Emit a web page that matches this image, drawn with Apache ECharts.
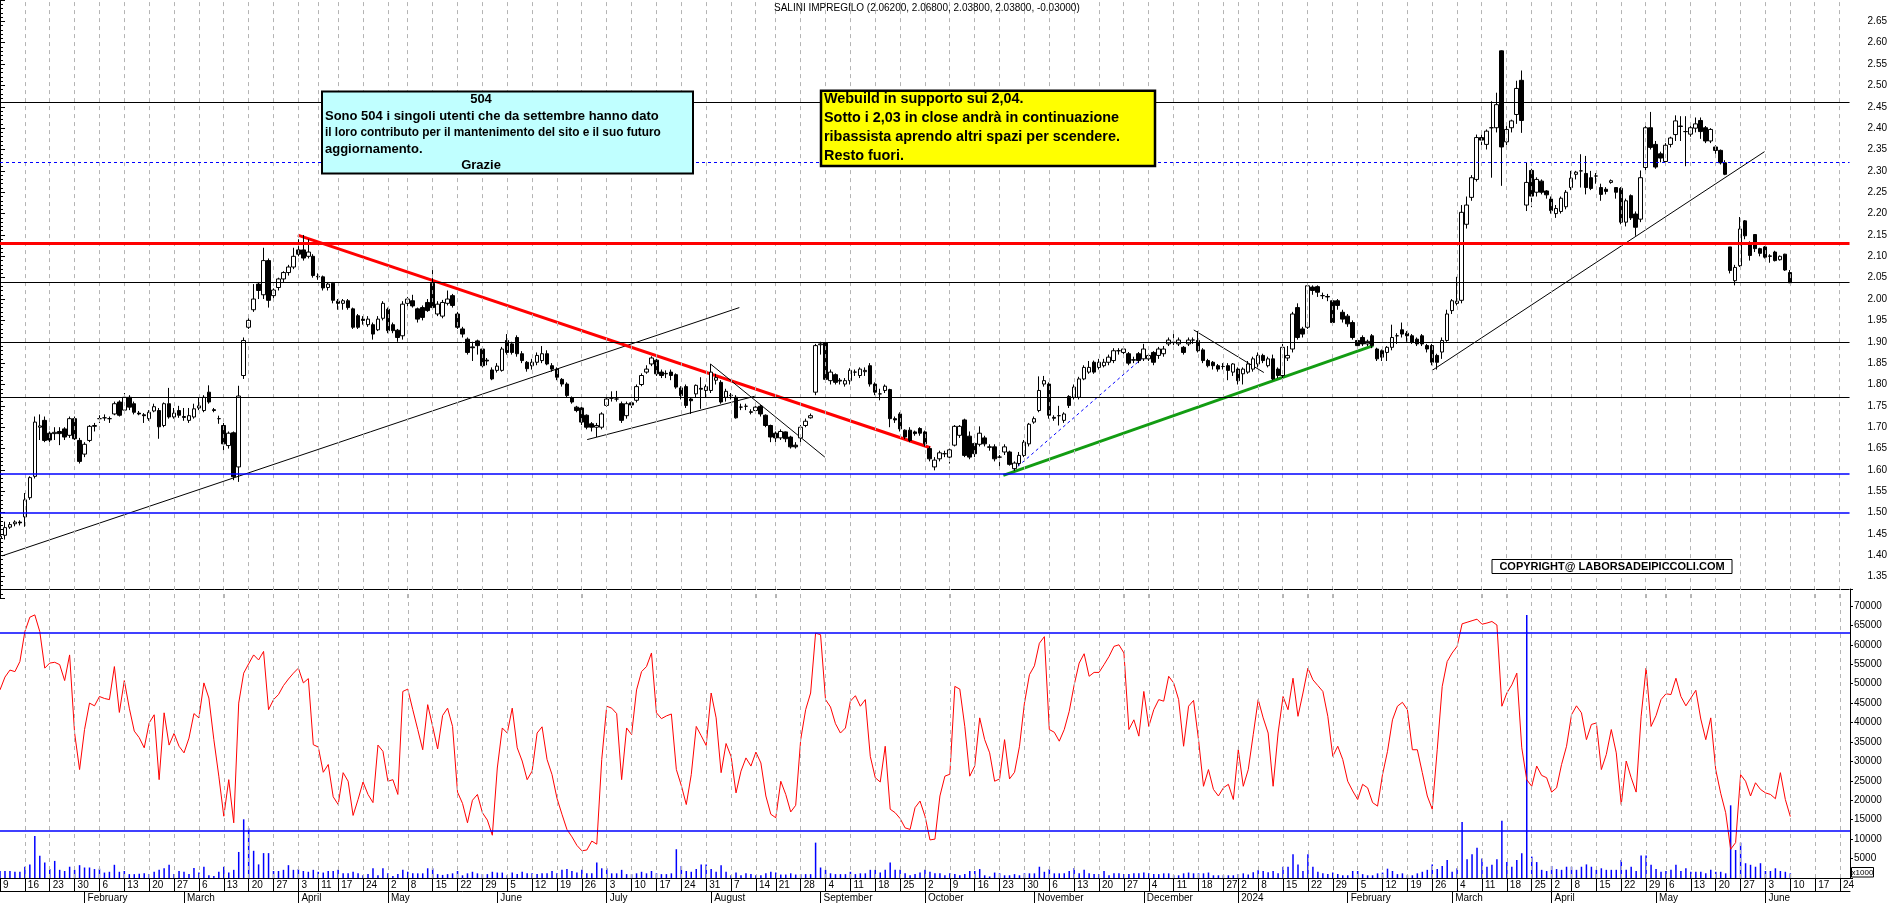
<!DOCTYPE html>
<html><head><meta charset="utf-8">
<script src="https://cdn.jsdelivr.net/npm/echarts@6/dist/echarts.min.js"></script>
<style>html,body{margin:0;padding:0;background:#fff;overflow:hidden}#c{width:1890px;height:903px}</style>
</head><body><div id="c"></div>
<script>
// ---------- calendar (trading days) ----------
const firstDay = '2023-01-09';
const lastAxisDay = '2024-06-26';
const holidays = ['2023-04-07','2023-04-10','2023-05-01','2023-08-15','2023-12-25','2023-12-26','2024-01-01','2024-03-29','2024-04-01','2024-05-01'];
const monthNames = ['January','February','March','April','May','June','July','August','September','October','November','December'];

// ---------- price data (daily OHLC, Jan 9 2023 .. Jun 10 2024) ----------
const opens = [
1.44,1.447,1.466,1.474,1.478,1.49,1.535,1.585,1.70,1.716,
1.686,1.685,1.69,1.696,1.681,1.72,1.669,1.637,1.669,1.702,
1.72,1.722,1.72,1.731,1.759,1.74,1.77,1.755,1.733,1.729,
1.72,1.738,1.739,1.704,1.755,1.724,1.739,1.725,1.716,1.724,
1.745,1.739,1.782,1.741,1.72,1.704,1.657,1.687,1.607,1.821,
1.934,1.975,2.035,2.01,2.09,2.008,2.027,2.047,2.062,2.075,
2.115,2.115,2.10,2.10,2.053,2.052,2.027,2.037,1.995,1.99,
1.996,1.977,1.961,1.953,1.94,1.94,1.928,1.955,1.976,1.94,
1.927,1.914,1.99,1.996,1.977,1.98,1.992,2.037,1.965,1.96,
1.99,2.008,1.965,1.93,1.906,1.888,1.902,1.883,1.857,1.834,
1.833,1.833,1.903,1.895,1.91,1.872,1.852,1.844,1.852,1.856,
1.872,1.844,1.836,1.812,1.801,1.769,1.747,1.745,1.728,1.708,
1.70,1.70,1.751,1.768,1.766,1.755,1.727,
1.757,1.763,1.80,1.829,1.848,1.857,1.829,1.826,1.829,1.823,
1.792,1.795,1.766,1.778,1.791,1.786,1.786,1.81,1.805,1.77,
1.775,1.770,1.747,1.749,1.736,1.739,1.749,1.728,1.704,1.686,
1.675,1.689,1.677,1.658,1.675,1.704,1.722,1.782,1.893,1.897,
1.809,1.823,1.81,1.801,1.809,1.829,1.821,1.83,1.844,1.801,
1.778,1.786,1.788,1.72,1.731,1.693,1.693,1.689,1.697,1.689,
1.65,1.607,1.626,1.638,1.63,1.658,1.681,1.717,1.679,1.662,
1.66,1.675,1.654,1.654,1.63,1.642,1.642,1.603,1.615,1.634,
1.661,1.712,1.739,1.801,1.801,1.723,1.727,1.716,1.772,1.77,
1.77,1.813,1.829,1.852,1.84,1.844,1.852,1.856,1.879,1.875,
1.872,1.858,1.872,1.860,1.860,1.875,1.868,1.872,1.895,1.898,
1.895,1.887,1.895,1.904,1.903,1.881,1.856,1.852,1.844,1.842,
1.844,1.829,1.836,1.825,1.829,1.836,1.848,
1.868,1.844,1.86,1.836,1.821,1.862,1.883,1.98,1.93,1.934,
2.028,2.029,2.008,2.006,1.996,1.996,1.969,1.96,1.945,1.903,
1.91,1.895,1.914,1.883,1.879,1.875,1.887,1.914,1.928,1.92,
1.914,1.906,1.914,1.891,1.891,1.868,1.876,1.903,1.973,1.99,
1.997,2.175,2.238,2.28,2.378,2.362,2.401,2.401,2.581,2.368,
2.401,2.432,2.512,2.22,2.301,2.25,2.276,2.253,2.234,2.2,
2.205,2.216,2.261,2.292,2.3,2.294,2.284,2.288,2.261,2.257,
2.273,2.261,2.259,2.18,2.242,2.199,2.187,2.308,2.401,2.362,
2.34,2.322,2.362,2.385,2.405,2.392,2.386,2.40,2.418,2.401,
2.37,2.356,2.348,2.319,2.122,2.043,2.078,2.183,2.13,2.151,
2.118,2.122,2.101,2.11,2.092,2.105,2.062];
const highs = [
1.45,1.479,1.478,1.482,1.482,1.546,1.585,1.725,1.73,1.725,
1.69,1.70,1.70,1.70,1.725,1.725,1.675,1.665,1.705,1.71,
1.728,1.73,1.725,1.76,1.763,1.78,1.775,1.76,1.738,1.733,
1.74,1.755,1.745,1.758,1.792,1.745,1.75,1.745,1.745,1.755,
1.77,1.775,1.798,1.745,1.727,1.71,1.69,1.69,1.797,1.91,
1.955,2.035,2.04,2.12,2.095,2.025,2.05,2.065,2.08,2.12,
2.14,2.15,2.14,2.105,2.06,2.055,2.04,2.04,2.0,2.0,
2.0,1.98,1.965,1.96,1.96,1.945,1.96,1.995,1.98,1.945,
1.93,1.995,2.005,2.01,1.98,1.985,2.0,2.075,1.995,1.998,
2.02,2.012,1.97,1.935,1.91,1.90,1.905,1.89,1.862,1.84,
1.85,1.888,1.918,1.90,1.915,1.878,1.855,1.86,1.875,1.89,
1.88,1.85,1.84,1.815,1.805,1.772,1.75,1.748,1.73,1.712,
1.71,1.735,1.77,1.784,1.785,1.76,1.76,
1.76,1.80,1.826,1.845,1.866,1.86,1.835,1.833,1.835,1.826,
1.796,1.80,1.77,1.80,1.817,1.80,1.848,1.825,1.81,1.79,
1.78,1.775,1.755,1.755,1.742,1.75,1.752,1.73,1.706,1.69,
1.695,1.69,1.68,1.665,1.705,1.72,1.732,1.895,1.90,1.90,
1.835,1.826,1.815,1.815,1.838,1.835,1.84,1.84,1.85,1.805,
1.79,1.80,1.79,1.725,1.735,1.695,1.70,1.692,1.70,1.692,
1.655,1.63,1.645,1.645,1.65,1.705,1.705,1.72,1.69,1.665,
1.702,1.68,1.66,1.66,1.635,1.66,1.645,1.62,1.642,1.67,
1.71,1.725,1.819,1.82,1.805,1.728,1.75,1.735,1.775,1.80,
1.818,1.845,1.855,1.856,1.86,1.86,1.87,1.885,1.885,1.89,
1.876,1.865,1.876,1.895,1.872,1.878,1.888,1.89,1.91,1.92,
1.91,1.89,1.91,1.91,1.925,1.885,1.86,1.855,1.848,1.85,
1.85,1.85,1.84,1.84,1.855,1.865,1.875,
1.872,1.865,1.87,1.84,1.895,1.89,1.97,1.99,1.935,2.035,
2.032,2.032,2.015,2.012,2.0,2.0,1.975,1.965,1.95,1.905,
1.915,1.905,1.918,1.886,1.882,1.89,1.94,1.92,1.945,1.925,
1.918,1.91,1.918,1.895,1.895,1.872,1.91,1.975,2.0,2.052,
2.22,2.24,2.29,2.385,2.385,2.397,2.463,2.483,2.582,2.405,
2.42,2.511,2.535,2.319,2.305,2.285,2.28,2.255,2.24,2.22,
2.24,2.255,2.30,2.30,2.339,2.335,2.30,2.295,2.27,2.262,
2.28,2.262,2.262,2.235,2.245,2.205,2.301,2.405,2.438,2.37,
2.345,2.365,2.38,2.43,2.428,2.428,2.41,2.425,2.425,2.405,
2.40,2.36,2.35,2.325,2.122,2.08,2.192,2.185,2.135,2.152,
2.12,2.124,2.105,2.113,2.102,2.106,2.068];
const lows = [
1.43,1.437,1.462,1.468,1.470,1.467,1.53,1.58,1.67,1.665,
1.665,1.67,1.658,1.67,1.675,1.67,1.615,1.63,1.665,1.69,
1.71,1.715,1.71,1.728,1.725,1.735,1.74,1.73,1.728,1.71,
1.715,1.735,1.673,1.70,1.72,1.72,1.722,1.715,1.71,1.72,
1.74,1.735,1.755,1.735,1.708,1.645,1.65,1.576,1.572,1.813,
1.93,1.97,2.0,2.0,1.98,1.995,2.02,2.04,2.055,2.07,
2.10,2.09,2.095,2.05,2.045,2.02,2.02,1.99,1.975,1.975,
1.975,1.93,1.93,1.94,1.935,1.905,1.925,1.95,1.92,1.92,
1.90,1.905,1.98,1.98,1.945,1.95,1.97,1.975,1.96,1.955,
1.985,1.98,1.93,1.91,1.87,1.855,1.87,1.84,1.845,1.81,
1.828,1.83,1.87,1.87,1.865,1.85,1.83,1.835,1.845,1.85,
1.845,1.83,1.81,1.795,1.77,1.755,1.735,1.705,1.695,1.69,
1.677,1.695,1.748,1.76,1.76,1.71,1.72,
1.745,1.758,1.796,1.825,1.843,1.82,1.815,1.815,1.81,1.79,
1.765,1.745,1.731,1.77,1.743,1.77,1.78,1.80,1.755,1.76,
1.765,1.72,1.74,1.74,1.73,1.735,1.725,1.70,1.665,1.665,
1.67,1.665,1.65,1.65,1.665,1.70,1.72,1.775,1.87,1.805,
1.80,1.80,1.80,1.795,1.80,1.82,1.815,1.82,1.795,1.775,
1.763,1.78,1.70,1.71,1.69,1.672,1.665,1.68,1.68,1.655,
1.62,1.599,1.62,1.63,1.615,1.655,1.675,1.63,1.625,1.63,
1.655,1.655,1.645,1.62,1.607,1.635,1.61,1.598,1.61,1.63,
1.655,1.708,1.735,1.795,1.72,1.715,1.704,1.71,1.745,1.765,
1.765,1.81,1.825,1.825,1.835,1.84,1.845,1.85,1.87,1.87,
1.845,1.85,1.85,1.855,1.855,1.845,1.86,1.865,1.89,1.892,
1.89,1.87,1.89,1.895,1.875,1.85,1.84,1.835,1.83,1.835,
1.81,1.82,1.80,1.80,1.825,1.83,1.84,
1.85,1.84,1.81,1.815,1.815,1.855,1.875,1.905,1.91,1.93,
2.01,2.005,2.0,1.995,1.94,1.975,1.945,1.935,1.905,1.885,
1.89,1.89,1.885,1.855,1.855,1.855,1.88,1.895,1.91,1.90,
1.895,1.89,1.89,1.875,1.845,1.835,1.86,1.90,1.965,1.985,
1.99,2.165,2.23,2.275,2.36,2.35,2.284,2.39,2.265,2.36,
2.39,2.41,2.389,2.206,2.215,2.24,2.245,2.235,2.2,2.19,
2.2,2.21,2.255,2.28,2.261,2.245,2.255,2.27,2.23,2.245,
2.27,2.235,2.175,2.17,2.185,2.148,2.18,2.295,2.35,2.305,
2.32,2.315,2.355,2.37,2.37,2.311,2.38,2.39,2.375,2.365,
2.365,2.34,2.315,2.29,2.06,2.032,2.075,2.14,2.09,2.11,
2.1,2.095,2.085,2.088,2.09,2.066,2.038];
const closes = [
1.445,1.465,1.472,1.478,1.476,1.53,1.582,1.712,1.703,1.669,
1.67,1.688,1.685,1.677,1.72,1.673,1.62,1.66,1.702,1.704,
1.72,1.722,1.72,1.755,1.728,1.77,1.747,1.735,1.731,1.727,
1.735,1.748,1.701,1.755,1.724,1.733,1.728,1.723,1.727,1.743,
1.75,1.77,1.759,1.739,1.72,1.661,1.686,1.584,1.773,1.903,
1.95,2.0,2.02,2.09,1.997,2.021,2.047,2.062,2.075,2.10,
2.105,2.096,2.11,2.055,2.052,2.026,2.035,1.997,1.99,1.996,
1.98,1.934,1.934,1.95,1.953,1.918,1.953,1.99,1.926,1.926,
1.91,1.988,2.0,1.984,1.953,1.957,1.973,1.98,1.988,1.992,
2.0,1.985,1.934,1.918,1.875,1.886,1.891,1.844,1.855,1.813,
1.843,1.883,1.875,1.875,1.872,1.856,1.837,1.852,1.868,1.872,
1.848,1.836,1.817,1.801,1.774,1.759,1.739,1.712,1.70,1.70,
1.704,1.731,1.766,1.768,1.766,1.716,1.755,
1.752,1.795,1.821,1.836,1.862,1.825,1.821,1.825,1.821,1.794,
1.774,1.751,1.762,1.798,1.789,1.795,1.829,1.816,1.759,1.784,
1.774,1.722,1.747,1.749,1.735,1.747,1.731,1.704,1.677,1.675,
1.690,1.673,1.654,1.654,1.70,1.714,1.727,1.891,1.895,1.812,
1.829,1.805,1.808,1.809,1.833,1.829,1.836,1.833,1.801,1.782,
1.778,1.796,1.72,1.717,1.696,1.677,1.669,1.685,1.686,1.661,
1.626,1.623,1.64,1.638,1.647,1.702,1.702,1.634,1.63,1.638,
1.686,1.661,1.653,1.626,1.63,1.654,1.613,1.616,1.634,1.665,
1.707,1.72,1.786,1.809,1.728,1.721,1.727,1.731,1.751,1.794,
1.813,1.84,1.84,1.829,1.852,1.852,1.864,1.879,1.879,1.883,
1.85,1.857,1.856,1.883,1.868,1.852,1.883,1.883,1.904,1.899,
1.904,1.875,1.904,1.904,1.879,1.856,1.844,1.844,1.836,1.842,
1.833,1.848,1.809,1.836,1.848,1.86,1.868,
1.856,1.86,1.813,1.821,1.887,1.868,1.965,1.91,1.918,2.031,
2.02,2.016,2.008,2.005,1.945,1.985,1.953,1.942,1.91,1.891,
1.895,1.901,1.891,1.86,1.864,1.887,1.91,1.914,1.918,1.914,
1.899,1.895,1.895,1.883,1.852,1.852,1.903,1.965,1.996,1.995,
2.203,2.22,2.284,2.378,2.372,2.393,2.401,2.455,2.356,2.397,
2.417,2.493,2.418,2.273,2.241,2.28,2.25,2.244,2.207,2.212,
2.236,2.25,2.283,2.297,2.3,2.261,2.259,2.288,2.245,2.252,
2.277,2.25,2.18,2.23,2.19,2.168,2.284,2.401,2.355,2.309,
2.33,2.36,2.377,2.417,2.404,2.392,2.401,2.41,2.392,2.37,
2.397,2.348,2.319,2.292,2.067,2.074,2.164,2.148,2.102,2.118,
2.107,2.098,2.1,2.09,2.1,2.068,2.038];

// ---------- lower panel: red oscillator and volume (x1000) ----------
const oscillator = [
48400,51700,53500,53100,55700,63400,67100,67700,63400,54000,
55300,55500,54900,50800,57400,37300,27900,38200,45000,44300,
46700,46200,45900,54400,42600,50800,43700,37800,36100,33500,
39900,42000,25300,42500,34200,37200,33900,32200,36000,42300,
41200,50200,46300,35600,26200,15900,25300,14200,45000,52700,
55100,57400,56100,58300,43300,45900,47200,49500,51200,52700,
54000,50200,51300,34300,33700,27200,29200,20900,18900,27100,
24900,16100,20200,24700,21500,19400,34200,32600,24900,25300,
21500,48000,48600,43300,38200,33000,44600,39000,33200,41800,
43700,39000,22100,19200,14200,20000,21500,16800,14900,11000,
28300,38600,37300,43700,33500,30100,25300,27500,37300,38900,
30500,26600,20500,16400,12500,10600,8400,7000,7200,9500,
8700,30500,44200,43700,42300,25300,38600,
36900,48400,53100,54400,57900,42500,41000,41700,42200,27900,
23800,18900,26600,39000,36600,34100,47600,41200,27100,34600,
31300,21900,27500,30900,28800,32400,29600,21100,16400,15500,
24900,21500,17000,18700,35600,43300,47600,63000,62600,45900,
44000,39700,37300,38600,45500,46900,44200,45900,31300,25800,
24700,33900,17700,16800,15300,12900,12500,18100,19800,15900,
9800,10000,21100,26200,26700,49300,48600,39000,26200,28800,
41200,35600,32200,24900,25500,35600,25500,27200,33900,45000,
52300,54600,60400,62100,38200,37500,35200,38200,42900,49700,
55300,57700,51900,52900,52900,54900,57000,59600,60000,57900,
38200,40700,36500,48000,39000,43300,45900,45500,51900,50200,
45900,33900,44200,45700,35600,23600,27900,22800,21100,23200,
24100,20200,33000,23600,27900,36900,45900,
41200,37300,23600,37300,46700,43300,51400,41600,47600,54000,
51000,49500,48000,41600,31300,33900,30500,24900,22400,20200,
24100,23200,19400,18500,26600,32600,40700,44200,45200,43300,
33000,33000,27100,21100,17700,33000,49300,55700,57900,59600,
65400,65800,66200,66600,65300,65600,66000,65100,44200,47600,
49700,52700,33500,25300,23600,28800,26400,25800,22100,23200,
29200,33900,42000,44300,42500,35600,39500,39900,27900,31800,
38200,32200,18900,30100,25800,22100,41600,54000,39000,41800,
45900,47400,47200,51400,46700,44300,46300,48300,40900,35600,
41200,27900,21800,16800,7400,9100,26600,24900,21100,24500,
22800,21900,21500,20400,27100,20200,15800];
const volumes = [
1800,1800,1800,1600,1600,2900,3500,10800,5700,4000,
2300,4400,2100,1800,2900,2100,3300,2700,2700,2300,
2400,1400,1600,3400,1600,1800,1000,1000,1100,1200,
1000,1600,2100,2500,3400,1000,1800,1600,1000,2600,
1400,2900,700,500,1600,2900,1400,2100,6700,15100,
12800,7000,3500,6400,6400,1800,1800,2100,3300,2100,
2300,1800,1600,2100,1600,1400,1800,1800,2100,1200,
1200,1600,1200,700,1000,2500,700,2500,1200,500,
1000,2100,1600,1200,1200,1200,2500,2500,1000,800,
1000,1200,1800,700,1200,1600,1200,1000,1000,1600,
1400,1400,700,1400,1000,1600,1200,1200,1000,1200,
1200,1800,1200,2100,2300,1800,1400,2100,1200,1200,
4000,2500,2500,1200,1200,2100,1000,
1000,1200,1600,1200,1800,1200,1000,1000,1200,7400,
3100,1800,1600,2300,3500,3500,2300,1600,3300,1600,
700,1400,700,1200,1000,700,700,1200,1600,1400,
900,900,1200,900,1000,1000,1000,9100,2700,2100,
1200,1000,1000,1000,1600,1000,1200,1200,2100,2100,
1400,2100,4000,2100,2100,1200,700,1000,1400,2100,
1600,1200,1200,700,1200,1000,700,1000,1800,1800,
2300,700,400,1400,1200,700,700,1000,700,1200,
1200,1200,2900,1600,2300,1200,1200,1200,1800,2600,
1200,2100,1200,1000,1000,1800,700,1200,1200,1000,
1000,1200,1200,1400,1200,1000,1000,1200,1200,700,
700,1200,1400,1200,1200,1200,1400,700,700,700,
700,700,1000,1200,900,1500,2000,
1800,1500,1800,1200,2900,2900,6100,3500,1800,6100,
2900,1600,1200,1000,1400,1000,700,700,1800,1800,
1000,700,700,1200,1400,2400,1800,1000,1200,700,
700,1200,1600,2100,3500,2300,3100,4600,1600,2500,
14400,4800,6100,7800,5000,2900,3400,4800,14700,4100,
2900,4600,6400,67700,5500,4100,2100,1800,3100,2300,
2100,2900,2900,2100,2900,3500,2900,2100,2500,2100,
2100,2100,4600,2100,2900,1800,5800,5800,3400,2300,
1600,1800,2100,3400,1800,2500,1600,1600,1600,1200,
2100,1600,1600,1200,18700,7200,9100,3800,3400,2900,
3800,1800,1800,2500,1800,1600,1200];

// ---------- horizontal levels and drawn trend lines (data coordinates: [day index, price]) ----------
const priceLevels = [2.4625, 2.320, 2.1276, 2.043, 1.902, 1.7726, 1.5928, 1.504, 1.3212];
const oscLevels = [63000, 12250];
const trendUpLong = [[0.4, 1.3987], [148.7, 1.980]];
const trendRedDown = [[59.9, 2.1496], [187.1, 1.652]];
const channelLow = [[118.1, 1.671], [151.8, 1.7725]];
const julyDown = [[142.9, 1.848], [165.9, 1.630]];
const blueDashUp = [[203.8, 1.599], [230.0, 1.864]];
const greenUp = [[201.8, 1.5874], [276.2, 1.891]];
const decDown = [[240.1, 1.9277], [254.2, 1.828]];
const springUp = [[288.0, 1.8326], [354.9, 2.345]];

// ---------- texts ----------
const titleText = 'SALINI IMPREGILO (2.06200, 2.06800, 2.03800, 2.03800, -0.03000)';
const cyanLines = ['Sono 504 i singoli utenti che da settembre hanno dato', 'il loro contributo per il mantenimento del sito e il suo futuro', 'aggiornamento.'];
const yellowLines = ['Webuild in supporto sui 2,04.', 'Sotto i 2,03 in close andrà in continuazione', 'ribassista aprendo altri spazi per scendere.', 'Resto fuori.'];

// ---------- build categories ----------
const dates = [];
(function () {
  const d = new Date(firstDay + 'T00:00:00Z');
  const end = new Date(lastAxisDay + 'T00:00:00Z').getTime();
  while (d.getTime() <= end) {
    const dow = d.getUTCDay();
    const s = d.toISOString().slice(0, 10);
    if (dow !== 0 && dow !== 6 && holidays.indexOf(s) < 0) dates.push(s);
    d.setUTCDate(d.getUTCDate() + 1);
  }
})();
function mondayKey(s) {
  const d = new Date(s + 'T00:00:00Z');
  const dow = (d.getUTCDay() + 6) % 7;
  d.setUTCDate(d.getUTCDate() - dow);
  return d.toISOString().slice(0, 10);
}
const weekStart = dates.map((s, i) => i === 0 || mondayKey(s) !== mondayKey(dates[i - 1]));
const monthStart = dates.map((s, i) => i > 0 && s.slice(5, 7) !== dates[i - 1].slice(5, 7));
const N = dates.length;

const ohlc = opens.map((o, i) => [o, closes[i], lows[i], highs[i]]);

const FONT = '"Liberation Sans", Arial, sans-serif';
const chart = echarts.init(document.getElementById('c'), null, { renderer: 'canvas' });

const levelStyles = [
  { color: '#000', width: 1, type: 'solid' },
  { color: '#0000ff', width: 1, type: [3, 3] },
  { color: '#ff0000', width: 3, type: 'solid' },
  { color: '#000', width: 1, type: 'solid' },
  { color: '#000', width: 1, type: 'solid' },
  { color: '#000', width: 1, type: 'solid' },
  { color: '#0000ff', width: 1.5, type: 'solid' },
  { color: '#0000ff', width: 1.5, type: 'solid' },
  { color: '#000', width: 1, type: 'solid' }
];

function seg(data, color, width, type) {
  return { type: 'line', xAxisIndex: 3, yAxisIndex: 0, data: data, symbol: 'none', silent: true,
    lineStyle: { color: color, width: width, type: type || 'solid' }, z: 3 };
}

const weekGridStyle = { color: '#b4b4b4', width: 1, type: [4, 4] };
const weekLines = dates.map((s, i) => (weekStart[i] && i > 0) ? { xAxis: s, lineStyle: weekGridStyle } : null).filter(Boolean);

const graphics = [
  { type: 'text', x: 774, y: 8.5, z: 100, style: { text: titleText, font: '10px ' + FONT, fill: '#000', textVerticalAlign: 'middle' } },
  { type: 'rect', z: 100, shape: { x: 322, y: 91.5, width: 371, height: 82 }, style: { fill: '#c0ffff', stroke: '#000', lineWidth: 2 } },
  { type: 'text', x: 481, y: 99.5, z: 101, style: { text: '504', font: 'bold 13px ' + FONT, fill: '#000', textAlign: 'center', textVerticalAlign: 'middle' } },
  { type: 'text', x: 481, y: 165.5, z: 101, style: { text: 'Grazie', font: 'bold 13px ' + FONT, fill: '#000', textAlign: 'center', textVerticalAlign: 'middle' } },
  { type: 'rect', z: 100, shape: { x: 821, y: 90.7, width: 334, height: 75.3 }, style: { fill: '#ffff00', stroke: '#000', lineWidth: 2.5 } },
  { type: 'rect', z: 100, shape: { x: 1492, y: 559.5, width: 240, height: 14 }, style: { fill: '#fff', stroke: '#000', lineWidth: 1 } },
  { type: 'text', x: 1612, y: 567, z: 101, style: { text: 'COPYRIGHT@ LABORSADEIPICCOLI.COM', font: 'bold 11px ' + FONT, fill: '#000', textAlign: 'center', textVerticalAlign: 'middle' } },
  { type: 'rect', z: 100, shape: { x: 1851.5, y: 867.5, width: 22, height: 9.5 }, style: { fill: '#fff', stroke: '#000', lineWidth: 1 } },
  { type: 'text', x: 1862.5, y: 872.5, z: 101, style: { text: 'x1000', font: '8px ' + FONT, fill: '#000', textAlign: 'center', textVerticalAlign: 'middle' } }
];
const cyanY = [116.7, 132.7, 149.3];
const cyanStretch = [1.0, 0.91, 1.0];
cyanLines.forEach((t, i) => graphics.push({ type: 'text', x: 325, y: cyanY[i], scaleX: cyanStretch[i], z: 101,
  style: { text: t, font: 'bold 13px ' + FONT, fill: '#000', textVerticalAlign: 'middle' } }));
const yellowY = [99.5, 118.3, 137.3, 156];
yellowLines.forEach((t, i) => graphics.push({ type: 'text', x: 824, y: yellowY[i], z: 101, style: { text: t, font: 'bold 14.4px ' + FONT, fill: '#000', textVerticalAlign: 'middle' } }));

const lenOk = [opens, highs, lows, closes, oscillator, volumes].every(a => a.length === 361);
if (!lenOk) {
  graphics.push({ type: 'text', x: 900, y: 450, z: 200, style: { text: 'LEN ' + [opens.length, highs.length, lows.length, closes.length, oscillator.length, volumes.length].join(','), font: 'bold 30px ' + FONT, fill: '#f0f' } });
}

chart.setOption({
  animation: false,
  backgroundColor: '#fff',
  textStyle: { fontFamily: FONT },
  grid: [
    { left: -2, right: 40, top: -1.41, height: 599.5 },
    { left: -2, right: 40, top: 589, height: 289.5 }
  ],
  xAxis: [
    { type: 'category', gridIndex: 0, data: dates, boundaryGap: false,
      axisLine: { show: false }, axisTick: { show: false }, axisLabel: { show: false }, splitLine: { show: false } },
    { type: 'category', gridIndex: 1, data: dates, boundaryGap: false,
      axisLine: { show: true, onZero: false, lineStyle: { color: '#000', width: 1 } },
      axisTick: { show: true, interval: (i) => weekStart[i], length: 13, lineStyle: { color: '#000', width: 1 } },
      axisLabel: { show: true, interval: (i) => weekStart[i], formatter: (v) => String(parseInt(v.slice(8), 10)),
        align: 'left', padding: [0, 0, 0, 3], margin: 2, fontSize: 10, color: '#000', fontFamily: FONT },
      splitLine: { show: false } },
    { type: 'category', gridIndex: 1, data: dates, boundaryGap: false, position: 'bottom', offset: 13,
      axisLine: { show: true, onZero: false, lineStyle: { color: '#000', width: 1 } },
      axisTick: { show: true, interval: (i) => monthStart[i], length: 12, lineStyle: { color: '#000', width: 1 } },
      axisLabel: { show: true, interval: (i) => monthStart[i],
        formatter: (v) => v.slice(5, 7) === '01' ? v.slice(0, 4) : monthNames[parseInt(v.slice(5, 7), 10) - 1],
        align: 'left', padding: [0, 0, 0, 3], margin: 2, fontSize: 10, color: '#000', fontFamily: FONT },
      splitLine: { show: false } },
    { type: 'value', gridIndex: 0, min: 0, max: N - 1, show: false, splitLine: { show: false } }
  ],
  yAxis: [
    { type: 'value', gridIndex: 0, position: 'right', min: 1.30, max: 2.70, interval: 0.05,
      axisLine: { show: true, lineStyle: { color: '#000', width: 1 } },
      axisTick: { show: true, length: 5, lineStyle: { color: '#000' } },
      minorTick: { show: true, splitNumber: 5, length: 3, lineStyle: { color: '#000' } },
      axisLabel: { margin: 18, fontSize: 10, color: '#000', fontFamily: FONT,
        formatter: (v) => (v < 1.32 || v > 2.68) ? '' : v.toFixed(2) },
      splitLine: { show: false } },
    { type: 'value', gridIndex: 1, position: 'right', min: 0, max: 74360, interval: 5000,
      axisLine: { show: true, lineStyle: { color: '#000', width: 1 } },
      axisTick: { show: true, length: 3, lineStyle: { color: '#000' } },
      axisLabel: { margin: 4, fontSize: 10, color: '#000', fontFamily: FONT,
        formatter: (v) => (v === 0 || v % 5000 !== 0) ? '' : String(v) },
      splitLine: { show: false } }
  ],
  graphic: { elements: graphics },
  series: [
    { type: 'line', xAxisIndex: 0, yAxisIndex: 0, data: [], silent: true, z: 1,
      markLine: { silent: true, symbol: ['none', 'none'], label: { show: false }, data: weekLines } },
    { type: 'candlestick', xAxisIndex: 0, yAxisIndex: 0, data: ohlc, barWidth: 4, z: 4,
      itemStyle: { color: '#fff', color0: '#000', borderColor: '#000', borderColor0: '#000', borderWidth: 1 },
      markLine: { silent: true, symbol: ['none', 'none'], label: { show: false },
        data: priceLevels.map((v, i) => ({ yAxis: v, lineStyle: levelStyles[i] })) } },
    seg(trendUpLong, '#000', 1),
    seg(trendRedDown, '#ff0000', 3),
    seg(channelLow, '#000', 1),
    seg(julyDown, '#000', 1),
    seg(blueDashUp, '#0000ff', 1, [3, 3]),
    seg(greenUp, '#129c12', 3),
    seg(decDown, '#000', 1),
    seg(springUp, '#000', 1),
    { type: 'bar', xAxisIndex: 1, yAxisIndex: 1, data: volumes, barWidth: 1.5, itemStyle: { color: '#0000ff' }, silent: true,
      markLine: { silent: true, symbol: ['none', 'none'], label: { show: false }, data: weekLines } },
    { type: 'line', xAxisIndex: 1, yAxisIndex: 1, data: oscillator, symbol: 'none', silent: true,
      lineStyle: { color: '#ff0000', width: 1 },
      markLine: { silent: true, symbol: ['none', 'none'], label: { show: false },
        data: oscLevels.map((v) => ({ yAxis: v, lineStyle: { color: '#0000ff', width: 1.5, type: 'solid' } })) } }
  ]
});
</script>
</body></html>
